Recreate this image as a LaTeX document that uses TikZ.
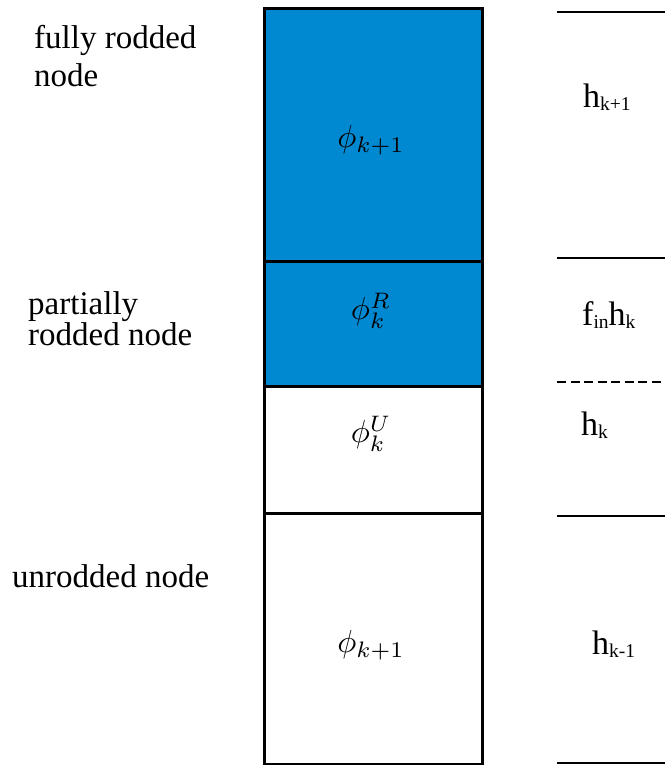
\documentclass[tikz,border=0pt]{standalone}
\usepackage{fontspec}
\setmainfont{Liberation Serif}
\newfontfamily\tnr{Liberation Serif}
\definecolor{rodblue}{RGB}{0,137,209}
\newcommand\lbl[2]{#1\raisebox{-3pt}{\fontsize{19.5}{19.5}\selectfont #2}}
\newcommand\phibig[1]{\scalebox{3.2}{$#1$}}
\begin{document}
\begin{tikzpicture}[x=1pt,y=-1pt,
  cell/.style={draw=black,line width=2.8pt,minimum width=218pt,inner sep=0pt,anchor=north west},
  side/.style={anchor=base west,inner sep=0pt,font=\tnr\fontsize{33}{40}\selectfont},
  hlab/.style={anchor=base west,inner sep=0pt,font=\tnr\fontsize{34}{40}\selectfont},
  mlab/.style={inner sep=0pt},
  level/.style={line width=2.8pt},
  dlevel/.style={line width=2.8pt,dash pattern=on 9pt off 4.5pt}]
\useasboundingbox (0,0) rectangle (665,765);
% column cells
\node[cell,fill=rodblue,minimum height=253pt] (c1) at (263,7) {};
\node[cell,fill=rodblue,minimum height=125pt] (c2) at (263,260) {};
\node[cell,fill=white,minimum height=127pt] (c3) at (263,385) {};
\node[cell,fill=white,minimum height=251pt] (c4) at (263,512) {};
% labels inside cells
\node[mlab] (p1) at (371,140) {\phibig{\phi_{k+1}}};
\node[mlab] (p2) at (371,311) {\phibig{\phi_{k}^{R}}};
\node[mlab] (p3) at (371,434) {\phibig{\phi_{k}^{U}}};
\node[mlab] (p4) at (371,645) {\phibig{\phi_{k+1}}};
% left texts
\node[side] (t1) at (34,49) {fully rodded};
\node[side] (t2) at (34,87) {node};
\node[side] (t3) at (28,314) {partially};
\node[side] (t4) at (28,345) {rodded node};
\node[side] (t5) at (12,587) {unrodded node};
% right level lines
\coordinate (a1) at (557,12);  \coordinate (b1) at (665,12);
\coordinate (a2) at (557,258); \coordinate (b2) at (665,258);
\coordinate (a3) at (557,382); \coordinate (b3) at (665,382);
\coordinate (a4) at (557,516); \coordinate (b4) at (665,516);
\coordinate (a5) at (557,763); \coordinate (b5) at (665,763);
\draw[level] (a1) -- (b1);
\draw[level] (a2) -- (b2);
\draw[dlevel] (a3) -- (b3);
\draw[level] (a4) -- (b4);
\draw[level] (a5) -- (b5);
% right labels
\node[hlab] (h1) at (583,107) {\lbl{h}{k+1}};
\node[hlab] (h2) at (582,325) {\lbl{f}{in}\lbl{h}{k}};
\node[hlab] (h3) at (581,435) {\lbl{h}{k}};
\node[hlab] (h4) at (592,654) {\lbl{h}{k-1}};
\end{tikzpicture}
\end{document}
